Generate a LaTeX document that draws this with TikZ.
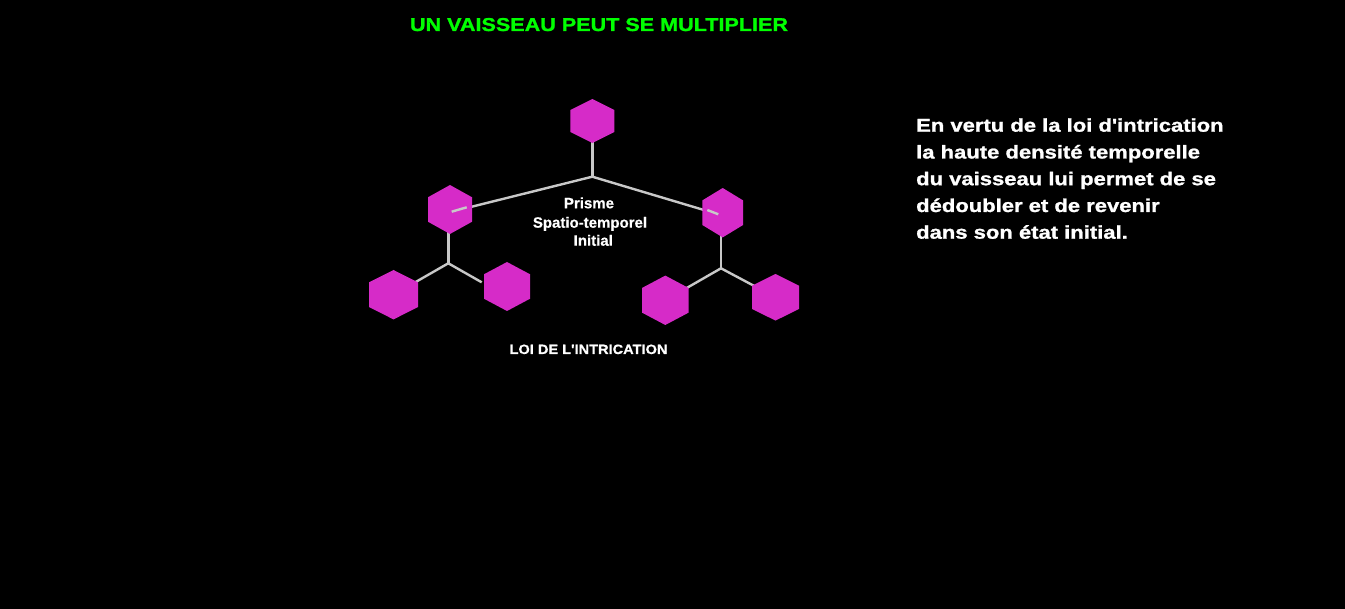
\documentclass[tikz,border=0pt]{standalone}
\usepackage{fontspec}
\setmainfont{Liberation Sans}[BoldFeatures={FakeBold=0.6}]
\newfontfamily\titlefont[FakeStretch=1.16,BoldFeatures={FakeBold=1.2}]{Liberation Sans}
\newfontfamily\bodyfont[FakeStretch=1.19,BoldFeatures={FakeBold=1.2}]{Liberation Sans}
\newfontfamily\loifont[FakeStretch=1.08,BoldFeatures={FakeBold=0.8}]{Liberation Sans}
\definecolor{hexmag}{RGB}{214,43,200}
\definecolor{linkgray}{RGB}{200,200,200}
\definecolor{titlegreen}{RGB}{0,255,0}
\newcommand\hexa[3]{\fill[hexfill] ([shift={(0,-#3)}]#1) -- ++(#2,#3/2) -- ++(0,#3) -- ++(-#2,#3/2) -- ++(-#2,-#3/2) -- ++(0,-#3) -- cycle;}
\begin{document}
\begin{tikzpicture}[x=1pt,y=-1pt,
  link/.style={draw=linkgray,line width=2.4pt},
  hexfill/.style={fill=hexmag},
  bodytext/.style={anchor=base west,inner sep=0pt,text=white,font=\bodyfont\bfseries\fontsize{18.5}{22}\selectfont},
  midtext/.style={anchor=base,inner sep=0pt,text=white,font=\bfseries\fontsize{15}{18}\selectfont}]
\fill[black] (0,0) rectangle (1345,609);
\useasboundingbox (0,0) rectangle (1345,609);
% hexagon centres
\coordinate (top) at (592.3,121);
\coordinate (ml) at (450,209.5);
\coordinate (mr) at (722.7,212.7);
\coordinate (bll) at (393.5,294.7);
\coordinate (blr) at (507,286.5);
\coordinate (brl) at (665.3,300.3);
\coordinate (brr) at (775.5,297.3);
% junctions and line ends
\coordinate (j0) at (592.3,176.7);
\coordinate (j1) at (448.3,263.3);
\coordinate (j2) at (721,268.3);
\coordinate (e1) at (481.7,282.3);
\coordinate (sl) at (451.7,211.7);
\coordinate (sl2) at (466.7,207.3);
\coordinate (sr) at (718.3,214.3);
\coordinate (sr2) at (707.3,210.0);
% connectors
\draw[link] (top) -- (j0);
\draw[link] (j0) -- (sl);
\draw[link] (j0) -- (sr);
\draw[link] (j1 |- ml) -- (j1);
\draw[link] (j1) -- (bll);
\draw[link] (j1) -- (e1);
\draw[link] (j2 |- mr) -- (j2);
\draw[link] (j2) -- (brl);
\draw[link] (j2) -- (brr);
% hexagons
\hexa{top}{22}{22}
\hexa{ml}{22}{24.5}
\hexa{mr}{20.3}{24.7}
\hexa{bll}{24.5}{24.7}
\hexa{blr}{23}{24.5}
\hexa{brl}{23.3}{24.7}
\hexa{brr}{23.5}{23.3}
% stubs visible over the hexagons
\draw[link] (sl) -- (sl2);
\draw[link] (sr2) -- (sr);
% texts
\node[anchor=base,inner sep=0pt,text=titlegreen,font=\titlefont\bfseries\fontsize{18.6}{22}\selectfont] (title) at (599,31) {UN VAISSEAU PEUT SE MULTIPLIER};
\node[midtext] (p1) at (589,208.3) {Prisme};
\node[midtext] (p2) at (590,227.7) {Spatio-temporel};
\node[midtext] (p3) at (593.3,245.7) {Initial};
\node[anchor=base,inner sep=0pt,text=white,font=\loifont\bfseries\fontsize{13.5}{16}\selectfont] (loi) at (588.5,354) {LOI DE L'INTRICATION};
\node[bodytext] (t1) at (916,131.7) {En vertu de la loi d'intrication};
\node[bodytext] (t2) at (916,158.5) {la haute densité temporelle};
\node[bodytext] (t3) at (916,185.2) {du vaisseau lui permet de se};
\node[bodytext] (t4) at (916,212) {dédoubler et de revenir};
\node[bodytext] (t5) at (916,238.7) {dans son état initial.};
\end{tikzpicture}
\end{document}
